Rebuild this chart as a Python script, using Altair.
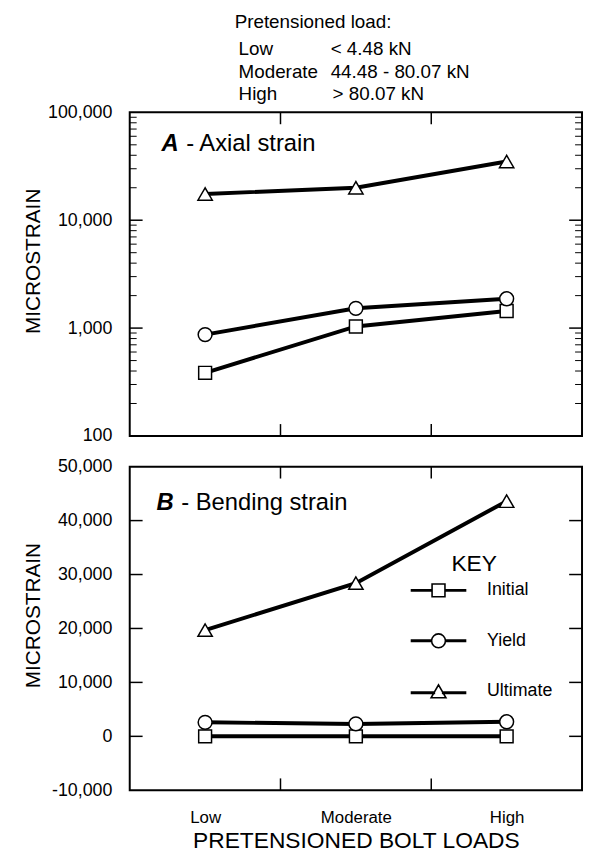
import altair as alt
import pandas as pd

# ---------------- data ----------------
loads = ["Low", "Moderate", "High"]
series = ["Initial", "Yield", "Ultimate"]

axial_initial = [385, 1035, 1440]
axial_yield = [870, 1525, 1870]
axial_ultimate = [17500, 20000, 35000]

bending_initial = [0, 0, 0]
bending_yield = [2600, 2300, 2700]
bending_ultimate = [19700, 28400, 43600]

load_levels = ["Low", "Moderate", "High"]
load_ranges = ["< 4.48 kN", "44.48 - 80.07 kN", "> 80.07 kN"]
header_title = "Pretensioned load:"

axial_ticks_major = [1000, 10000]
axial_ticks_minor = [200, 300, 400, 500, 600, 700, 800, 900,
                     2000, 3000, 4000, 5000, 6000, 7000, 8000, 9000,
                     20000, 30000, 40000, 50000, 60000, 70000, 80000, 90000]
axial_axis_values = [100, 1000, 10000, 100000]
bending_ticks = [0, 10000, 20000, 30000, 40000]
bending_axis_values = [-10000, 0, 10000, 20000, 30000, 40000, 50000]
x_ticks = [1.5, 2.5]

shapes = ["square", "circle", "triangle-up"]
shape_sizes = [169, 196, 210]
legend_paths = [
    "M-3.9,-0.1H-0.93V0.1H-3.9ZM0.93,-0.1H3.9V0.1H0.93ZM-0.93,-0.93H0.93V0.93H-0.93Z",
    "M-3.9,-0.1H-1V0.1H-3.9ZM1,-0.1H3.9V0.1H1ZM-1,0A1,1,0,1,1,1,0A1,1,0,1,1,-1,0Z",
    "M-3.9,0.1H-0.6V0.3H-3.9ZM0.6,0.1H3.9V0.3H0.6ZM0,-0.93L1.07,0.93H-1.07Z",
]

W, H = 457, 327
FONT = "Liberation Sans"


def long_df(vals_by_series):
    rows = []
    for s, vals in zip(series, vals_by_series):
        for i, (ld, v) in enumerate(zip(loads, vals)):
            rows.append({"series": s, "load": ld, "pos": i + 1, "value": v})
    return pd.DataFrame(rows)


dfA = long_df([axial_initial, axial_yield, axial_ultimate])
dfB = long_df([bending_initial, bending_yield, bending_ultimate])

xscale = alt.Scale(domain=[0.5, 3.5], nice=False, zero=False)
X_top = alt.X("pos:Q", scale=xscale, axis=None)
label_expr_x = "[" + ",".join("'%s'" % l for l in loads) + "][datum.value - 1]"
X_bot = alt.X(
    "pos:Q", scale=xscale,
    axis=alt.Axis(values=[1, 2, 3], labelExpr=label_expr_x, ticks=False, tickSize=0,
                  domain=False, grid=False, labelPadding=20, labelFontSize=17,
                  title="PRETENSIONED BOLT LOADS", titleFontSize=23, titlePadding=4),
)
ylab = "datum.value < 0 ? '-' + format(-datum.value, ',') : format(datum.value, ',')"
YA = alt.Y(
    "value:Q",
    scale=alt.Scale(type="log", domain=[100, 100000], nice=False),
    axis=alt.Axis(values=axial_axis_values, labelExpr=ylab, ticks=False, tickSize=0,
                  domain=False, grid=False, labelPadding=18, labelOverlap=False,
                  labelFlush=False, title="MICROSTRAIN", titleX=-97, titleY=150,
                  titleBaseline="middle", titleAngle=270),
)
YB = alt.Y(
    "value:Q",
    scale=alt.Scale(domain=[-10000, 50000], nice=False, zero=False),
    axis=alt.Axis(values=bending_axis_values, labelExpr=ylab, ticks=False, tickSize=0,
                  domain=False, grid=False, labelPadding=18, labelOverlap=False,
                  labelFlush=False, title="MICROSTRAIN", titleX=-97, titleY=150,
                  titleBaseline="middle", titleAngle=270),
)


def text_layer(txt, x, y, size, weight="normal", style="normal", align="left"):
    return alt.Chart(pd.DataFrame({"t": [txt]})).mark_text(
        font=FONT, fontSize=size, fontWeight=weight, fontStyle=style,
        align=align, baseline="middle", color="black",
    ).encode(text="t:N", x=alt.value(x), y=alt.value(y))


def panel(df, X, Y, major, minor, ticklen_major=13, ticklen_minor=7):
    layers = []
    layers.append(alt.Chart(df).mark_line(color="black", strokeWidth=4).encode(
        x=X, y=Y, detail="series:N"))
    for s, shp, sz in zip(series, shapes, shape_sizes):
        layers.append(alt.Chart(df).transform_filter(alt.datum.series == s).mark_point(
            shape=shp, filled=True, fill="white", stroke="black", strokeWidth=1.5,
            size=sz, opacity=1).encode(x=X, y=Y))
    tmaj = pd.DataFrame({"value": major})
    layers.append(alt.Chart(tmaj).mark_rule(color="black", strokeWidth=1.5).encode(
        y=Y, x=alt.value(0), x2=alt.value(ticklen_major)))
    layers.append(alt.Chart(tmaj).mark_rule(color="black", strokeWidth=1.5).encode(
        y=Y, x=alt.value(W), x2=alt.value(W - ticklen_major)))
    if minor:
        tmin = pd.DataFrame({"value": minor})
        layers.append(alt.Chart(tmin).mark_rule(color="black", strokeWidth=1).encode(
            y=Y, x=alt.value(0), x2=alt.value(ticklen_minor)))
        layers.append(alt.Chart(tmin).mark_rule(color="black", strokeWidth=1).encode(
            y=Y, x=alt.value(W), x2=alt.value(W - ticklen_minor)))
    txdf = pd.DataFrame({"pos": x_ticks})
    layers.append(alt.Chart(txdf).mark_rule(color="black", strokeWidth=1.5).encode(
        x=X, y=alt.value(0), y2=alt.value(12)))
    layers.append(alt.Chart(txdf).mark_rule(color="black", strokeWidth=1.5).encode(
        x=X, y=alt.value(H), y2=alt.value(H - 12)))
    return layers


# ---------------- top panel (A) ----------------
top_layers = panel(dfA, X_top, YA, axial_ticks_major, axial_ticks_minor)
top_layers.append(text_layer("A", 32, 32, 24, weight="bold", style="italic"))
top_layers.append(text_layer("- Axial strain", 57, 32, 24))
# header block above panel A
top_layers.append(text_layer(header_title, 106, -91, 19))
row_y = [-64, -41, -18]
range_x = [203, 203, 205]
for lvl, rng, yy, rx in zip(load_levels, load_ranges, row_y, range_x):
    top_layers.append(text_layer(lvl, 110, yy, 19))
    top_layers.append(text_layer(rng, rx, yy, 19))

top = alt.layer(*top_layers).properties(width=W, height=H)

# ---------------- bottom panel (B) ----------------
bot_layers = panel(dfB, X_bot, YB, bending_ticks, None)
bot_layers.append(text_layer("B", 27, 37, 24, weight="bold", style="italic"))
bot_layers.append(text_layer("- Bending strain", 52, 37, 24))
bot_layers.append(text_layer("KEY", 325, 98, 23))
# key layer: its points sit outside the x domain and are clipped; only its legend shows
legend_layer = alt.Chart(dfB).transform_calculate(pos="-10").mark_point(
    filled=False, color="black", strokeWidth=1.6, size=196, opacity=1, clip=True,
).encode(
    x=X_bot, y=YB,
    shape=alt.Shape(
        "series:N",
        scale=alt.Scale(domain=series, range=legend_paths),
        legend=alt.Legend(
            orient="none", legendX=303, legendY=116, title=None, direction="vertical",
            labelFont=FONT, labelFontSize=18, labelColor="black", labelOffset=40,
            rowPadding=30, symbolSize=196, symbolStrokeWidth=1.6,
            symbolStrokeColor="black", symbolOpacity=1,
        ),
    ),
)
bot_layers.append(legend_layer)
bottom = alt.layer(*bot_layers).properties(width=W, height=H)

chart = alt.vconcat(top, bottom, spacing=11).resolve_scale(
    shape="independent").resolve_legend(shape="independent").properties(
    padding={"left": 14, "top": 0, "right": 0, "bottom": 0}, background="white"
).configure_view(stroke="black", strokeWidth=2).configure_axis(
    labelFont=FONT, labelFontSize=18, labelColor="black",
    titleFont=FONT, titleFontSize=21, titleFontWeight="normal", titleColor="black",
)

chart.save("out.html", embed_options={"renderer": "svg", "actions": False})
